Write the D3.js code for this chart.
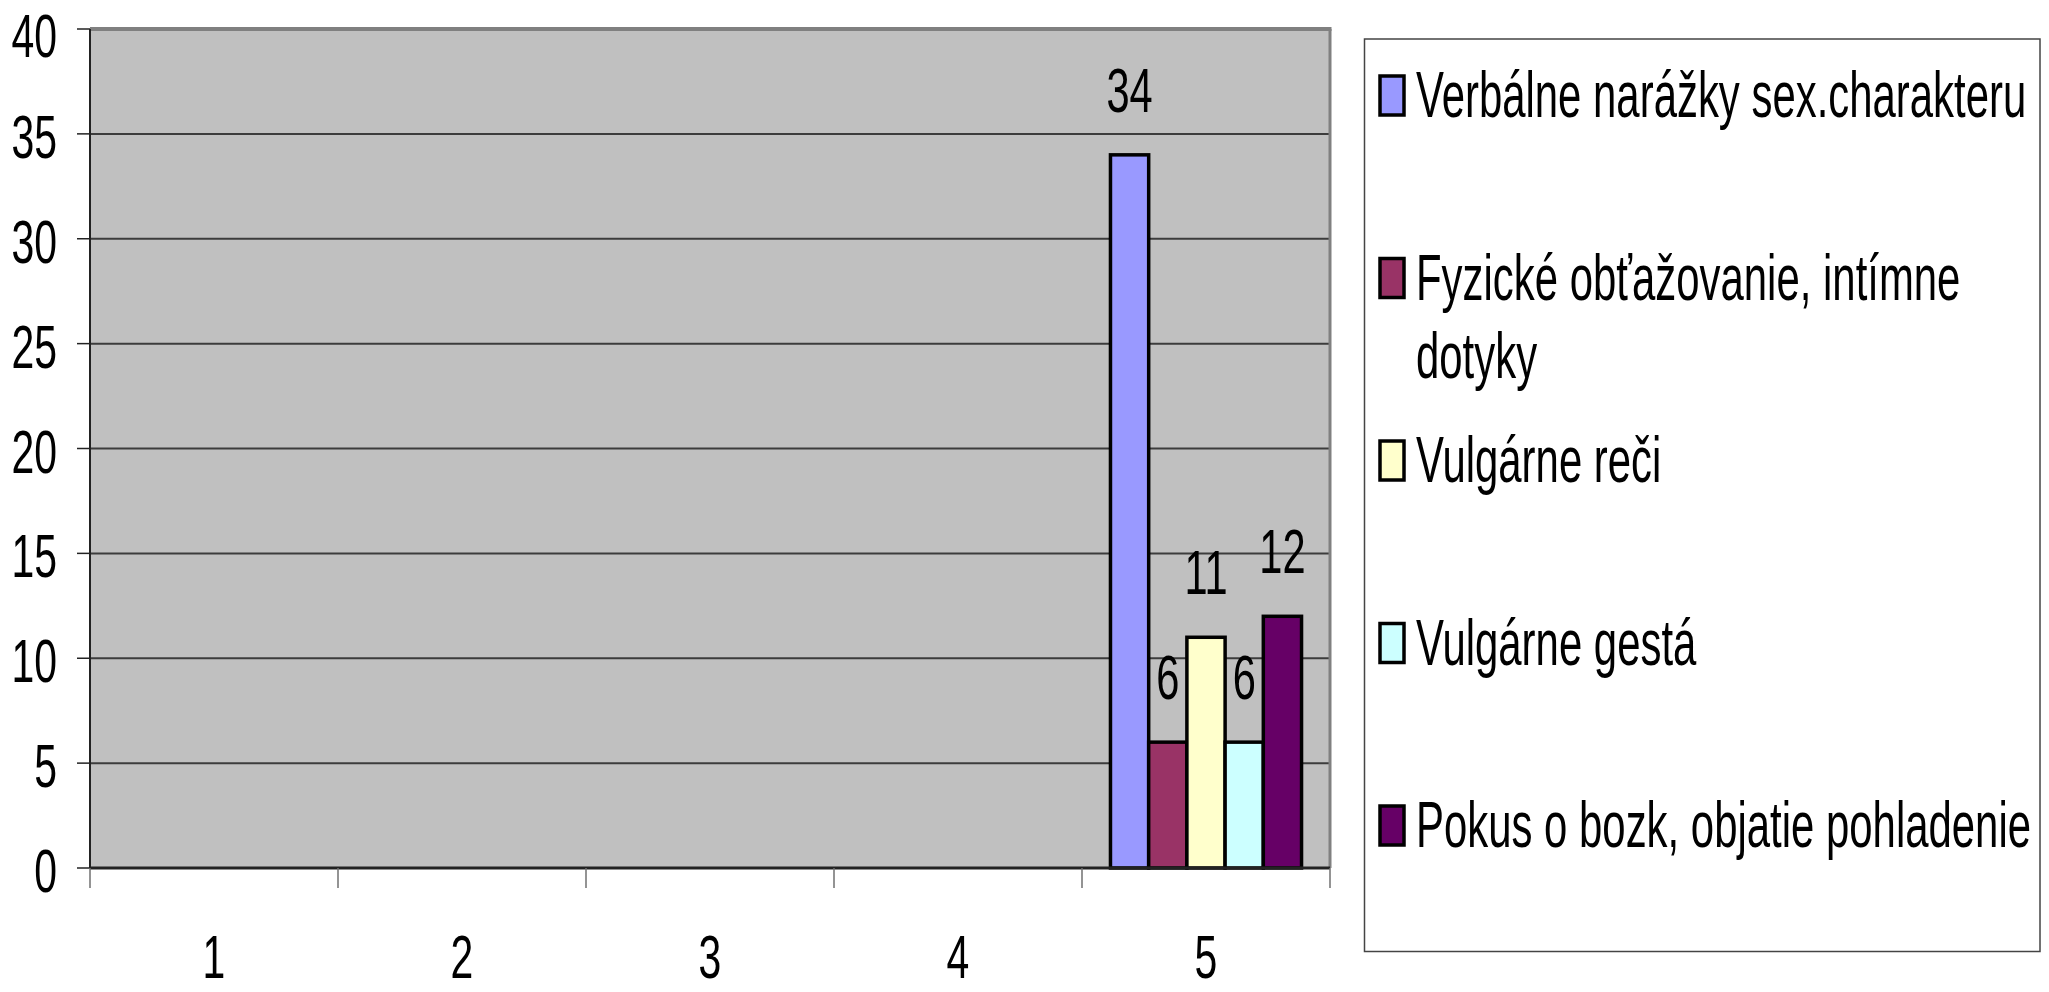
<!DOCTYPE html>
<html><head><meta charset="utf-8">
<script src="https://cdn.jsdelivr.net/npm/d3@7"></script>
<style>
body{margin:0;background:#fff}
svg{display:block}
text{font-family:"Liberation Sans",Arial,sans-serif;fill:#000}
</style>
</head><body>
<svg id="c" width="2049" height="992"></svg>
<script>
// ---- data ----
const categories = ["1", "2", "3", "4", "5"];
const seriesNames = [
  "Verbálne narážky sex.charakteru",
  "Fyzické obťažovanie, intímne dotyky",
  "Vulgárne reči",
  "Vulgárne gestá",
  "Pokus o bozk, objatie pohladenie"
];
const seriesColors = ["#9999FF", "#993366", "#FFFFCC", "#CCFFFF", "#660066"];
const verbalne = [null, null, null, null, 34];
const fyzicke  = [null, null, null, null, 6];
const reci     = [null, null, null, null, 11];
const gesta    = [null, null, null, null, 6];
const pokus    = [null, null, null, null, 12];
const yTicks = [0, 5, 10, 15, 20, 25, 30, 35, 40];

const seriesValues = [verbalne, fyzicke, reci, gesta, pokus];

// ---- layout ----
const svg = d3.select("#c");
const L = 90, R = 1330, T = 29, B = 868;
const numScale = 0.66, legScale = 0.655, fs = 62;

const x0 = d3.scaleBand().domain(categories).range([L, R]).paddingInner(0).paddingOuter(0);
const x1 = d3.scaleBand().domain(seriesNames).range([0, x0.bandwidth()]).paddingInner(0).paddingOuter(0.745);
const y = d3.scaleLinear().domain([0, 40]).range([B, T]);

function txt(g, x, yy, s, anchor, size, sx) {
  return g.append("text")
    .attr("transform", `translate(${x},${yy}) scale(${sx},1)`)
    .attr("text-anchor", anchor)
    .style("font-size", size + "px")
    .text(s);
}

// plot background
svg.append("rect").attr("x", L).attr("y", T).attr("width", R - L).attr("height", B - T).attr("fill", "#C0C0C0");

// gridlines
svg.append("g").selectAll("line").data(yTicks.filter(d => d > 0 && d < 40)).join("line")
  .attr("x1", L).attr("x2", R).attr("y1", d => y(d)).attr("y2", d => y(d))
  .attr("stroke", "#3c3c3c").attr("stroke-width", 2);

// top & right border
svg.append("line").attr("x1", L).attr("x2", R + 1.5).attr("y1", y(40)).attr("y2", y(40)).attr("stroke", "#808080").attr("stroke-width", 4);
svg.append("line").attr("x1", R).attr("x2", R).attr("y1", T).attr("y2", B).attr("stroke", "#808080").attr("stroke-width", 3);

// bars
const rows = [];
seriesNames.forEach((s, i) => categories.forEach((c, j) => {
  if (seriesValues[i][j] != null) rows.push({s, c, v: seriesValues[i][j], color: seriesColors[i]});
}));
svg.append("g").selectAll("rect").data(rows).join("rect")
  .attr("x", d => x0(d.c) + x1(d.s))
  .attr("y", d => y(d.v))
  .attr("width", x1.bandwidth())
  .attr("height", d => y(0) - y(d.v))
  .attr("fill", d => d.color)
  .attr("stroke", "#000").attr("stroke-width", 3.5);

// data labels
const lab = svg.append("g");
rows.forEach(d => {
  txt(lab, x0(d.c) + x1(d.s) + x1.bandwidth() / 2, y(d.v) - 43, String(d.v), "middle", 63, numScale);
});

// y axis
svg.append("line").attr("x1", L).attr("x2", L).attr("y1", T).attr("y2", B).attr("stroke", "#222").attr("stroke-width", 2);
const ya = svg.append("g");
const ascent = Math.ceil(fs * 0.91);
yTicks.forEach(t => {
  ya.append("line").attr("x1", L - 13).attr("x2", L).attr("y1", y(t)).attr("y2", y(t)).attr("stroke", "#222").attr("stroke-width", 1.5);
  txt(ya, 57, Math.max(y(t) + 24, ascent), String(t), "end", fs, numScale);
});

// x axis
svg.append("line").attr("x1", L).attr("x2", R).attr("y1", B).attr("y2", B).attr("stroke", "#222").attr("stroke-width", 3);
const xa = svg.append("g");
const bounds = categories.map(c => x0(c)).concat([R]);
bounds.forEach(bx => {
  xa.append("line").attr("x1", bx).attr("x2", bx).attr("y1", B).attr("y2", B + 20).attr("stroke", "#707070").attr("stroke-width", 1.5);
});
categories.forEach(c => {
  txt(xa, x0(c) + x0.bandwidth() / 2, 978, c, "middle", fs, numScale);
});

// legend
const lg = svg.append("g");
lg.append("rect").attr("x", 1364.5).attr("y", 39).attr("width", 675.5).attr("height", 912.5)
  .attr("fill", "#fff").attr("stroke", "#444").attr("stroke-width", 1.5);
const legFs = 64, textX = 1416, maxW = 640, slot0 = 95, slotH = 182.5, lineH = 78;
seriesNames.forEach((name, i) => {
  const cy = slot0 + i * slotH;
  lg.append("rect").attr("x", 1380).attr("y", cy - 19).attr("width", 24).attr("height", 39)
    .attr("fill", seriesColors[i]).attr("stroke", "#000").attr("stroke-width", 3.5);
  // wrap words
  const words = name.split(" ");
  let lines = [], cur = "";
  const probe = txt(lg, -1000, -1000, "", "start", legFs, legScale);
  words.forEach(w => {
    const test = cur ? cur + " " + w : w;
    probe.text(test);
    if (probe.node().getComputedTextLength() * legScale > maxW && cur) { lines.push(cur); cur = w; }
    else cur = test;
  });
  lines.push(cur);
  probe.remove();
  lines.forEach((ln, k) => txt(lg, textX, cy + 22 + k * lineH, ln, "start", legFs, legScale));
});
</script>
</body></html>
